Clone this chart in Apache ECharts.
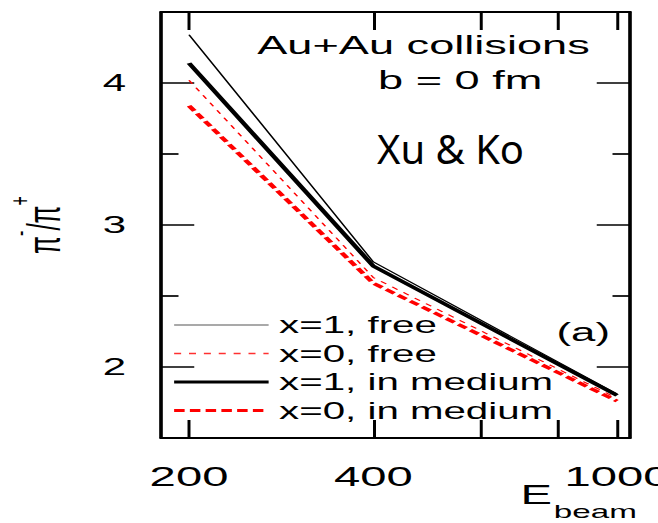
<!DOCTYPE html>
<html>
<head>
<meta charset="utf-8">
<script src="https://cdn.jsdelivr.net/npm/echarts@6/dist/echarts.min.js"></script>
<style>
  html, body { margin: 0; padding: 0; background: #fff; overflow: hidden; }
  /* the original figure is stretched sideways, so the chart is drawn narrow and widened */
  #container { width: 376px; height: 523px; transform: scaleX(1.75); transform-origin: 0 0; }
</style>
</head>
<body>
<div id="container"></div>
<script>
var STRETCH = 1.75;

var energies = [200, 400, 1000];
var freeX1 = [4.34, 2.74, 1.81];
var freeX0 = [4.02, 2.63, 1.78];
var mediumX1 = [4.14, 2.71, 1.80];
var mediumX0 = [3.84, 2.59, 1.76];

var xTicks = [200, 400, 600, 800, 1000];
var xLabels = [200, 400, 1000];
var yMajor = [2, 3, 4];
var yMinor = [2.5, 3.5];

function pairs(ys) {
  return energies.map(function (e, i) { return [e, ys[i]]; });
}

var FONT = 'Liberation Sans';
var frameLine = { show: true, onZero: false, lineStyle: { color: '#000', width: 1.8 } };

var styles = {
  freeX1: { color: '#000', width: 1, type: 'solid' },
  freeX0: { color: '#ff0000', width: 1, type: [4, 4.5] },
  mediumX1: { color: '#000', width: 3, type: 'solid' },
  mediumX0: { color: '#ff0000', width: 3, type: [6, 3] }
};

var myChart = echarts.init(document.getElementById('container'), null, { renderer: 'svg' });

function xAxisOf(pos, labels) {
  return {
    type: 'log',
    logBase: 10,
    min: 180,
    max: 1050,
    position: pos,
    axisLine: frameLine,
    splitLine: { show: false },
    minorTick: { show: false },
    axisTick: { show: true, inside: true, length: 18, customValues: xTicks, lineStyle: { color: '#000', width: 1.7 } },
    axisLabel: labels ? {
      show: true, customValues: xLabels, margin: 25, color: '#000', fontFamily: FONT, fontSize: 27,
      formatter: function (v) { return String(Math.round(v)); }
    } : { show: false }
  };
}

function yAxisOf(pos, ticks, len, labels) {
  return {
    type: 'value',
    min: 1.5,
    max: 4.5,
    position: pos,
    axisLine: frameLine,
    splitLine: { show: false },
    axisTick: { show: true, inside: true, length: len, customValues: ticks, lineStyle: { color: '#000', width: 1.7 } },
    axisLabel: labels ? {
      show: true, customValues: yMajor, margin: 20, color: '#000', fontFamily: FONT, fontSize: 24
    } : { show: false }
  };
}

var leftAxis = yAxisOf('left', yMajor, 19, true);
leftAxis.name = '{p|π}{s|-}{p|/π}{s|+}';
leftAxis.nameLocation = 'middle';
leftAxis.nameRotate = 90;
leftAxis.nameGap = 45;
leftAxis.nameMoveOverlap = false;
leftAxis.nameTextStyle = {
  rich: {
    p: { color: '#000', fontFamily: FONT, fontSize: 26 },
    s: { color: '#000', fontFamily: FONT, fontSize: 16, padding: [0, 0, 28, 0] }
  }
};

var bottomAxis = xAxisOf('bottom', true);
bottomAxis.name = '{e|E}{b|beam}';
bottomAxis.nameLocation = 'end';
bottomAxis.nameGap = 4;
bottomAxis.nameMoveOverlap = false;
bottomAxis.nameTextStyle = {
  align: 'right',
  verticalAlign: 'top',
  padding: [31, 0, 0, 0],
  rich: {
    e: { fontFamily: FONT, fontSize: 27, color: '#000' },
    b: { fontFamily: FONT, fontSize: 19, color: '#000', padding: [33, 0, 0, 1] }
  }
};

function seriesOf(name, key, ys) {
  return {
    name: name,
    type: 'line',
    symbol: 'none',
    lineStyle: styles[key],
    itemStyle: { color: styles[key].color },
    data: pairs(ys)
  };
}

var option = {
  animation: false,
  backgroundColor: '#fff',
  grid: {
    left: 92,
    right: 16,
    top: 12,
    bottom: 85,
    outerBoundsMode: 'none',
    containLabel: false
  },
  legend: {
    orient: 'vertical',
    left: 98,
    top: 313,
    padding: 0,
    itemWidth: 54,
    itemHeight: 2,
    itemGap: 4.5,
    itemStyle: { opacity: 0 },
    textStyle: { color: '#000', fontFamily: FONT, fontSize: 23, lineHeight: 24, padding: [0, 0, 0, 1] },
    data: [
      { name: 'x=1, free', lineStyle: { color: '#555', width: 1.2, type: 'solid' } },
      { name: 'x=0, free', lineStyle: { color: '#ff3030', width: 1.4, type: [4, 4.5] } },
      { name: 'x=1, in medium', lineStyle: styles.mediumX1 },
      { name: 'x=0, in medium', lineStyle: styles.mediumX0 }
    ]
  },
  xAxis: [bottomAxis, xAxisOf('top', false)],
  yAxis: [
    leftAxis,
    yAxisOf('left', yMinor, 10, false),
    yAxisOf('right', yMajor, 19, false),
    yAxisOf('right', yMinor, 10, false)
  ],
  graphic: [
    {
      type: 'text', left: 147, top: 32,
      style: { text: 'Au+Au collisions', fill: '#000', font: '25.8px "Liberation Sans"' }
    },
    {
      type: 'text', left: 216, top: 67,
      style: { text: 'b = 0 fm', fill: '#000', font: '25.8px "Liberation Sans"' }
    },
    {
      type: 'text', x: 377 / STRETCH, y: 128, scaleX: 1 / STRETCH,
      style: { text: 'Xu & Ko', fill: '#000', font: '40px "Noto Sans"' }
    },
    {
      type: 'text', left: 318, top: 320,
      style: { text: '(a)', fill: '#000', font: '25px "Liberation Sans"' }
    }
  ],
  series: [
    seriesOf('x=1, free', 'freeX1', freeX1),
    seriesOf('x=0, free', 'freeX0', freeX0),
    seriesOf('x=1, in medium', 'mediumX1', mediumX1),
    seriesOf('x=0, in medium', 'mediumX0', mediumX0)
  ]
};

myChart.setOption(option);
</script>
</body>
</html>
